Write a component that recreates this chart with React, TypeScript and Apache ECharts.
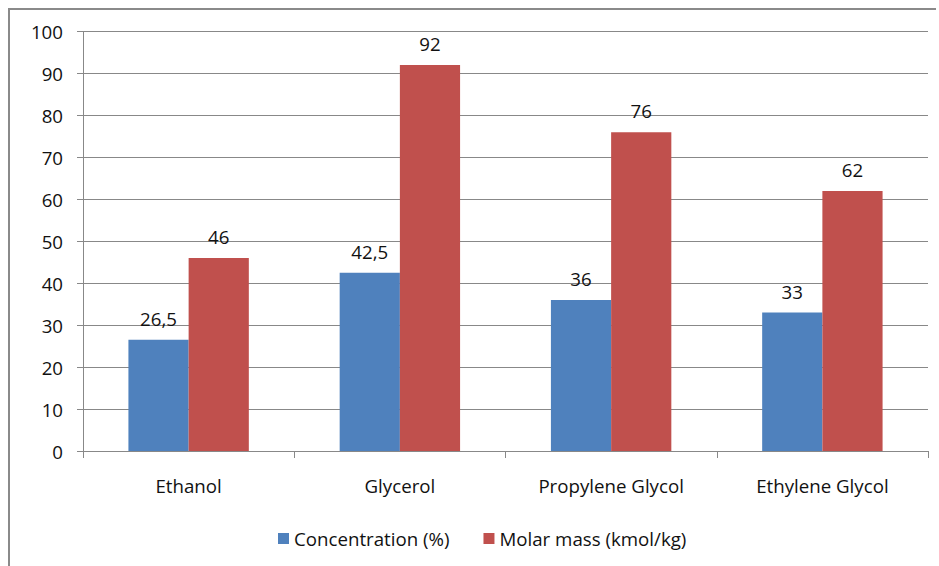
import React, { useEffect, useRef } from "react";
import * as echarts from "echarts";

const categories = ["Ethanol", "Glycerol", "Propylene Glycol", "Ethylene Glycol"];
const concentration = [26.5, 42.5, 36, 33];
const molarMass = [46, 92, 76, 62];
const seriesNames = ["Concentration (%)", "Molar mass (kmol/kg)"];

const FONT = "'Open Sans', sans-serif";
const FS = 18.7;
const TEXT = "#111111";
const GRID_GRAY = "#888888";

export default function App() {
  const ref = useRef<HTMLDivElement>(null);

  useEffect(() => {
    if (!ref.current) return;
    const chart = echarts.init(ref.current, undefined, { renderer: "svg" });
    const fmt = (v: number) => String(v).replace(".", ",");
    const barLabel = {
      show: true,
      position: "top" as const,
      distance: 12,
      fontFamily: FONT,
      fontSize: FS,
      color: TEXT,
      formatter: (p: any) => fmt(p.value),
    };
    chart.setOption({
      animation: false,
      backgroundColor: "#ffffff",
      textStyle: { fontFamily: FONT },
      graphic: [
        {
          type: "polyline",
          shape: { points: [[9, 570], [9, 9], [936, 9]] },
          style: { stroke: "#8a8a8a", lineWidth: 2, fill: "none" },
          silent: true,
        },
      ],
      grid: { left: 83, right: 11, top: 31.5, bottom: 115, containLabel: false },
      legend: {
        bottom: 13,
        left: 273,
        itemWidth: 11,
        itemHeight: 11,
        itemGap: 34,
        icon: "rect",
        textStyle: { fontFamily: FONT, fontSize: FS, color: TEXT },
        data: seriesNames,
      },
      xAxis: {
        type: "category",
        data: categories,
        boundaryGap: true,
        axisLine: { lineStyle: { color: GRID_GRAY, width: 1 } },
        axisTick: { show: true, length: 7, lineStyle: { color: GRID_GRAY } },
        axisLabel: { margin: 25, fontFamily: FONT, fontSize: FS, color: TEXT },
      },
      yAxis: {
        type: "value",
        min: 0,
        max: 100,
        interval: 10,
        axisLine: { show: true, lineStyle: { color: GRID_GRAY, width: 1 } },
        axisTick: { show: true, length: 6, lineStyle: { color: GRID_GRAY } },
        axisLabel: { margin: 20, fontFamily: FONT, fontSize: FS, color: TEXT },
        splitLine: { show: true, lineStyle: { color: GRID_GRAY, width: 1 } },
      },
      series: [
        {
          name: seriesNames[0],
          type: "bar",
          data: concentration,
          barWidth: "28.5%",
          barGap: "0%",
          itemStyle: { color: "#4F81BD" },
          label: barLabel,
        },
        {
          name: seriesNames[1],
          type: "bar",
          data: molarMass,
          barWidth: "28.5%",
          barGap: "0%",
          itemStyle: { color: "#C0504D" },
          label: barLabel,
        },
      ],
    });
    return () => chart.dispose();
  }, []);

  return (
    <div
      ref={ref}
      style={{ position: "absolute", left: 0, top: 0, width: 939, height: 566 }}
    />
  );
}
